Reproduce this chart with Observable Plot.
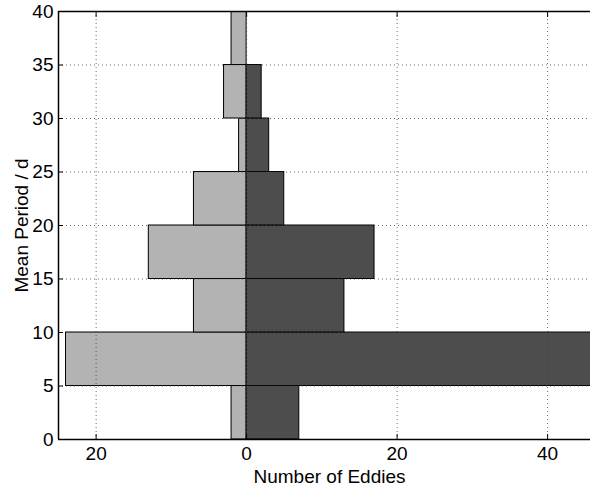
<!DOCTYPE html>
<html>
<head>
<meta charset="utf-8">
<script src="https://cdn.jsdelivr.net/npm/d3@7"></script>
<script src="https://cdn.jsdelivr.net/npm/@observablehq/plot@0.6"></script>
<style>
  html, body { margin: 0; padding: 0; background: #fff; }
  #chart svg { display: block; }
</style>
</head>
<body>
<div id="chart"></div>
<script>
const binStarts = [0, 5, 10, 15, 20, 25, 30, 35];
const binWidth = 5;
const leftCounts = [2, 24, 7, 13, 7, 1, 3, 2];
const rightCounts = [7, 48, 13, 17, 5, 3, 2, 0];
const xTicks = [-20, 0, 20, 40];
const yTicks = [0, 5, 10, 15, 20, 25, 30, 35, 40];
const xLabel = "Number of Eddies";
const yLabel = "Mean Period / d";

const leftRows = binStarts.map((s, i) => ({y1: s, y2: s + binWidth, x1: 0, x2: -leftCounts[i]}));
const rightRows = binStarts.map((s, i) => ({y1: s, y2: s + binWidth, x1: 0, x2: rightCounts[i]}));

const font = "'Liberation Sans', Arial, Helvetica, sans-serif";

const chart = Plot.plot({
  width: 590,
  height: 486,
  marginLeft: 58,
  marginRight: 0,
  marginTop: 11,
  marginBottom: 47,
  style: {fontFamily: font, fontSize: "19px", color: "#000", background: "#fff"},
  x: {domain: [-25, 45.7], ticks: xTicks, tickFormat: d => Math.abs(d)},
  y: {domain: [0, 40], ticks: yTicks},
  marks: [
    Plot.rect(leftRows, {x1: "x1", x2: "x2", y1: "y1", y2: "y2", fill: "#b3b3b3", stroke: "#000", strokeWidth: 1, clip: true}),
    Plot.rect(rightRows, {x1: "x1", x2: "x2", y1: "y1", y2: "y2", fill: "#4d4d4d", stroke: "#000", strokeWidth: 1, clip: true}),
    Plot.gridX(xTicks, {stroke: "#444", strokeOpacity: 0.8, strokeDasharray: "1,3"}),
    Plot.gridY(yTicks, {stroke: "#444", strokeOpacity: 0.8, strokeDasharray: "1,3"}),
    Plot.axisX(xTicks, {anchor: "bottom", tickSize: -5, tickPadding: 12, label: null, tickFormat: d => Math.abs(d), fontSize: 19}),
    Plot.axisX(xTicks, {anchor: "top", tickSize: -5, tickFormat: null, label: null, text: null}),
    Plot.axisY(yTicks, {anchor: "left", tickSize: -5, tickPadding: 10, label: null, fontSize: 19}),
    Plot.ruleY([0, 40], {stroke: "#000", strokeWidth: 1.5}),
    Plot.ruleX([-25], {stroke: "#000", strokeWidth: 1.5}),
    Plot.text([xLabel], {frameAnchor: "bottom", textAnchor: "middle", lineAnchor: "middle", dx: 5, dy: 37, fontSize: 19, fill: "#000"}),
    Plot.text([yLabel], {frameAnchor: "left", textAnchor: "middle", lineAnchor: "middle", dx: -37, rotate: -90, fontSize: 19, fill: "#000"})
  ]
});
document.getElementById("chart").appendChild(chart);
</script>
</body>
</html>
